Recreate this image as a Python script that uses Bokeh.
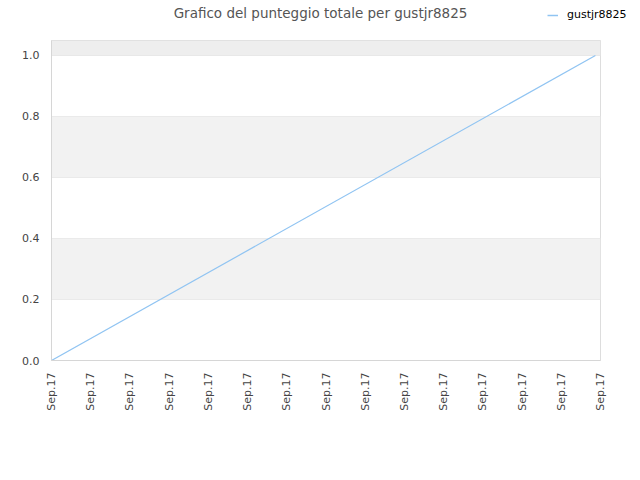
import math
from bokeh.plotting import figure
from bokeh.layouts import column
from bokeh.models import (BoxAnnotation, Legend, LegendItem, FixedTicker, Range1d, Label)
from bokeh.embed import file_html
from bokeh.resources import INLINE

# data
x_vals = [0.0, 13.87]
y_vals = [0.0, 1.0]
x_ticks = list(range(15))
x_tick_labels = ["Sep.17"] * 15
y_ticks = [0.0, 0.2, 0.4, 0.6, 0.8, 1.0]
series_name = "gustjr8825"
title_text = "Grafico del punteggio totale per gustjr8825"

FONT = "DejaVu Sans"
LINE_COLOR = "#90c4f2"
W = 632

# header with title and legend
h = figure(width=W, height=40, output_backend="svg", toolbar_location=None,
           x_range=Range1d(0, W), y_range=Range1d(0, 40),
           x_axis_location=None, y_axis_location=None,
           min_border=0, min_border_left=0, min_border_right=0,
           min_border_top=0, min_border_bottom=0)
h.frame_align = False
h.grid.visible = False
h.outline_line_color = None
h.background_fill_color = "white"
h.border_fill_color = "white"
h.add_layout(Label(x=320, y=28, x_units="screen", y_units="screen",
                   text=title_text, text_align="center", text_baseline="middle",
                   text_font=FONT, text_font_size="13.5px", text_color="#555555"))
# legend swatch renderer (single point: draws nothing itself)
hr = h.line(x=[x_vals[0]], y=[y_vals[0]], line_color=LINE_COLOR, line_width=1.5)
legend = Legend(items=[LegendItem(label=series_name, renderers=[hr])],
                location=(547, 19), orientation="horizontal",
                border_line_alpha=0, background_fill_alpha=0,
                label_text_font=FONT, label_text_font_size="11px",
                label_text_color="#000000", glyph_width=11, glyph_height=12,
                label_height=12, padding=0, margin=0, spacing=0, label_standoff=9)
h.add_layout(legend, "center")

p = figure(width=W, height=432, output_backend="svg", toolbar_location=None,
           x_range=Range1d(0, 14), y_range=Range1d(0, 1.049),
           min_border_left=51, min_border_right=32, min_border_top=0,
           min_border_bottom=112)
p.frame_align = False

p.background_fill_color = "white"
p.border_fill_color = "white"
p.outline_line_color = "#dddddd"

# bands
for lo, hi, c in [(0.2, 0.4, "#f2f2f2"), (0.6, 0.8, "#f2f2f2"), (1.0, None, "#eeeeee")]:
    p.add_layout(BoxAnnotation(bottom=lo, top=hi, fill_color=c, fill_alpha=1,
                               line_alpha=0, level="underlay"))

p.xgrid.visible = False
p.ygrid.grid_line_color = "#e3e3e3"
p.ygrid.ticker = FixedTicker(ticks=y_ticks)

r = p.line(x_vals, y_vals, line_color=LINE_COLOR, line_width=1.2)

p.xaxis.ticker = FixedTicker(ticks=x_ticks)
p.xaxis.major_label_overrides = {t: l for t, l in zip(x_ticks, x_tick_labels)}
p.xaxis.major_label_orientation = math.pi / 2
p.yaxis.ticker = FixedTicker(ticks=y_ticks)
p.yaxis.major_label_overrides = {t: f"{t:.1f}" for t in y_ticks}
for ax in (p.xaxis, p.yaxis):
    ax.axis_line_color = "#d6d6d6"
    ax.major_tick_line_color = None
    ax.minor_tick_line_color = None
    ax.major_label_text_font = FONT
    ax.major_label_text_font_size = "11px"
    ax.major_label_text_color = "#444444"
    ax.major_label_standoff = 6

layout = column(h, p, spacing=0)
open("out.html", "w").write(file_html(layout, INLINE))
